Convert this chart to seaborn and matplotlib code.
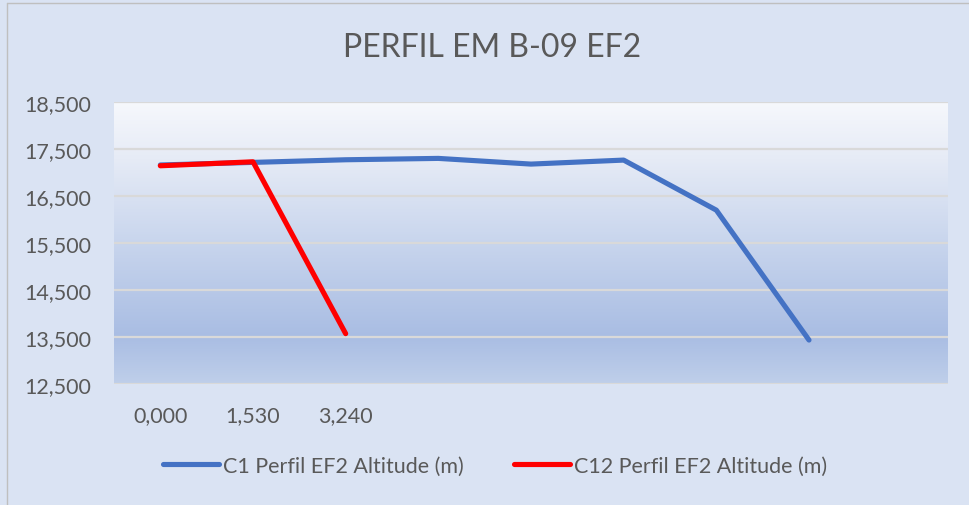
import numpy as np
import pandas as pd
import matplotlib
matplotlib.use("Agg")
import matplotlib.pyplot as plt
from matplotlib.colors import LinearSegmentedColormap
from matplotlib.lines import Line2D
import seaborn as sns

# Category axis labels (9 slots, only the first three carry text)
categories = ["0,000", "1,530", "3,240", "", "", "", "", "", ""]

# Altitude profiles (m)
c1_altitude = [17160, 17215, 17271, 17300, 17179, 17264, 16199, 13435]
c12_altitude = [17143, 17228, 13571]

series_names = ["C1 Perfil EF2 Altitude (m)", "C12 Perfil EF2 Altitude (m)"]
series_colors = ["#4472C4", "#FF0000"]

y_ticks = [12500, 13500, 14500, 15500, 16500, 17500, 18500]

sns.set_theme(style="white")
plt.rcParams["font.family"] = ["Lato", "DejaVu Sans"]

text_color = "#595959"
bg_color = "#DAE3F3"
label_size = 15.5

fig = plt.figure(figsize=(9.69, 5.06), dpi=100, facecolor=bg_color)
ax = fig.add_axes([114 / 969, 1 - 385 / 506, (948 - 114) / 969, (385 - 103) / 506])

# Gradient fill of the plot area
grad = LinearSegmentedColormap.from_list(
    "plotfill",
    [(0.0, "#F6F8FC"), (0.2, "#E6EBF6"), (0.5, "#C8D5ED"), (0.83, "#A9BDE3"), (1.0, "#BFCFEA")],
)
ax.imshow(np.linspace(0, 1, 256).reshape(-1, 1), cmap=grad, aspect="auto",
          extent=(-0.5, len(categories) - 0.5, 12500, 18500), origin="upper", zorder=0)

frames = []
for name, vals in zip(series_names, [c1_altitude, c12_altitude]):
    frames.append(pd.DataFrame({"pos": np.arange(len(vals)), "alt": vals, "serie": name}))
df = pd.concat(frames, ignore_index=True)

sns.lineplot(data=df, x="pos", y="alt", hue="serie", palette=series_colors,
             linewidth=3.7, sort=False, ax=ax, legend=False, zorder=3,
             solid_capstyle="round", solid_joinstyle="round")

ax.set_xlim(-0.5, len(categories) - 0.5)
ax.set_ylim(12500, 18500)
ax.set_yticks(y_ticks)
ax.set_yticklabels([f"{v:,}" for v in y_ticks])
ax.set_xticks(range(len(categories)))
ax.set_xticklabels(categories)
ax.set_xlabel("")
ax.set_ylabel("")

for v in y_ticks:
    ax.axhline(v, color="#D9D9D9", linewidth=1.6, zorder=1)

for s in ax.spines.values():
    s.set_visible(False)

ax.tick_params(axis="both", length=0, colors=text_color, labelsize=label_size)
ax.tick_params(axis="y", pad=16.5)
ax.tick_params(axis="x", pad=15)

fig.text(492 / 969, 1 - 48 / 506, "PERFIL EM B-09 EF2", ha="center", va="center",
         fontsize=23, color=text_color)

handles = [Line2D([0], [0], color=c, linewidth=3.7, solid_capstyle="round") for c in series_colors]
fig.legend(handles, series_names, loc="center", bbox_to_anchor=(495 / 969, 1 - 467 / 506),
           ncol=2, frameon=False, fontsize=label_size, labelcolor=text_color,
           handlelength=2.6, handletextpad=0.2, columnspacing=2.3)

# Chart border
fig.add_artist(Line2D([7 / 969, 7 / 969], [0, 1 - 4 / 506], color="#BFBFBF", linewidth=1))
fig.add_artist(Line2D([7 / 969, 1], [1 - 4 / 506, 1 - 4 / 506], color="#BFBFBF", linewidth=1))

fig.savefig("out.png", dpi=100, facecolor=bg_color)
